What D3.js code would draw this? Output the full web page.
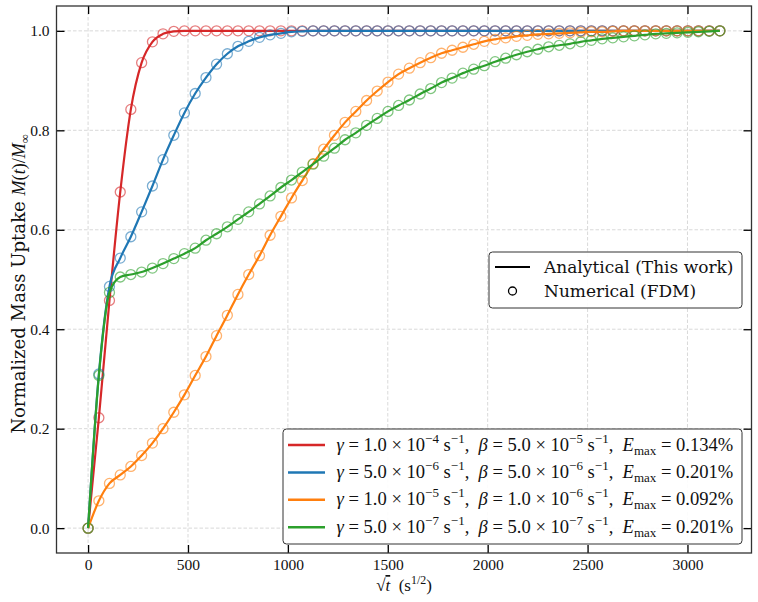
<!DOCTYPE html>
<html>
<head>
<meta charset="utf-8">
<script src="https://cdn.jsdelivr.net/npm/d3@7/dist/d3.min.js"></script>
<style>
  body { margin: 0; background: #fff; }
  svg { display: block; }
  text { white-space: pre; }
</style>
</head>
<body>
<svg id="chart" width="758" height="602"></svg>
<script>
// sqrt(t) sample positions of the FDM points (s^1/2)
const xs = [0, 54, 107, 161, 214, 268, 322, 375, 429, 482, 536, 590, 643, 697, 750, 804, 858, 911, 965, 1018,
  1072, 1126, 1179, 1233, 1286, 1340, 1394, 1447, 1501, 1554, 1608, 1662, 1715, 1769, 1822, 1876, 1930, 1983, 2037, 2090,
  2144, 2198, 2251, 2305, 2358, 2412, 2466, 2519, 2573, 2626, 2680, 2734, 2787, 2841, 2894, 2948, 3002, 3055, 3109, 3162]

const redY = [0, 0.222, 0.458, 0.676, 0.842, 0.936, 0.978, 0.994, 0.999, 1, 1, 1, 1, 1, 1, 1, 1, 1, 1, 1,
  1, 1, 1, 1, 1, 1, 1, 1, 1, 1, 1, 1, 1, 1, 1, 1, 1, 1, 1, 1,
  1, 1, 1, 1, 1, 1, 1, 1, 1, 1, 1, 1, 1, 1, 1, 1, 1, 1, 1, 1]
const blueY = [0, 0.31, 0.486, 0.543, 0.586, 0.636, 0.688, 0.741, 0.790, 0.835, 0.874, 0.906, 0.933, 0.954, 0.969, 0.979, 0.987, 0.992, 0.995, 0.998,
  0.999, 1, 1, 1, 1, 1, 1, 1, 1, 1, 1, 1, 1, 1, 1, 1, 1, 1, 1, 1,
  1, 1, 1, 1, 1, 1, 1, 1, 1, 1, 1, 1, 1, 1, 1, 1, 1, 1, 1, 1]
const orangeY = [0, 0.055, 0.090, 0.107, 0.124, 0.146, 0.171, 0.200, 0.233, 0.268, 0.307, 0.345, 0.387, 0.428, 0.470, 0.510, 0.548, 0.589, 0.627, 0.664,
  0.699, 0.733, 0.762, 0.790, 0.816, 0.838, 0.860, 0.879, 0.897, 0.913, 0.925, 0.936, 0.946, 0.955, 0.961, 0.967, 0.973, 0.979, 0.983, 0.986,
  0.989, 0.991, 0.993, 0.994, 0.995, 0.996, 0.997, 0.998, 0.998, 0.999, 1, 1, 1, 1, 1, 1, 1, 1, 1, 1]
const greenY = [0, 0.307, 0.474, 0.505, 0.510, 0.515, 0.523, 0.532, 0.542, 0.552, 0.563, 0.579, 0.592, 0.606, 0.621, 0.636, 0.652, 0.668, 0.685, 0.700,
  0.716, 0.732, 0.748, 0.764, 0.781, 0.795, 0.810, 0.824, 0.838, 0.850, 0.861, 0.873, 0.884, 0.896, 0.905, 0.915, 0.923, 0.930, 0.938, 0.945,
  0.952, 0.958, 0.963, 0.968, 0.971, 0.974, 0.978, 0.981, 0.984, 0.986, 0.988, 0.990, 0.992, 0.994, 0.995, 0.996, 0.997, 0.998, 0.999, 1]

const seriesY = [redY, blueY, orangeY, greenY]
const colors = ["#d62728", "#1f77b4", "#ff7f0e", "#2ca02c"]

const xTicks = [0, 500, 1000, 1500, 2000, 2500, 3000]
const yTicks = [0, 0.2, 0.4, 0.6, 0.8, 1.0]

// legend labels, split into pieces: i = italic, sup / sub = script
const legendLabels = [
  [{t: "γ", i: 1}, {t: " = 1.0 × 10"}, {t: "−4", k: "sup"}, {t: " s"}, {t: "−1", k: "sup"}, {t: ",  "},
   {t: "β", i: 1}, {t: " = 5.0 × 10"}, {t: "−5", k: "sup"}, {t: " s"}, {t: "−1", k: "sup"}, {t: ",  "},
   {t: "E", i: 1}, {t: "max", k: "sub"}, {t: " = 0.134%"}],
  [{t: "γ", i: 1}, {t: " = 5.0 × 10"}, {t: "−6", k: "sup"}, {t: " s"}, {t: "−1", k: "sup"}, {t: ",  "},
   {t: "β", i: 1}, {t: " = 5.0 × 10"}, {t: "−6", k: "sup"}, {t: " s"}, {t: "−1", k: "sup"}, {t: ",  "},
   {t: "E", i: 1}, {t: "max", k: "sub"}, {t: " = 0.201%"}],
  [{t: "γ", i: 1}, {t: " = 1.0 × 10"}, {t: "−5", k: "sup"}, {t: " s"}, {t: "−1", k: "sup"}, {t: ",  "},
   {t: "β", i: 1}, {t: " = 1.0 × 10"}, {t: "−6", k: "sup"}, {t: " s"}, {t: "−1", k: "sup"}, {t: ",  "},
   {t: "E", i: 1}, {t: "max", k: "sub"}, {t: " = 0.092%"}],
  [{t: "γ", i: 1}, {t: " = 5.0 × 10"}, {t: "−7", k: "sup"}, {t: " s"}, {t: "−1", k: "sup"}, {t: ",  "},
   {t: "β", i: 1}, {t: " = 5.0 × 10"}, {t: "−7", k: "sup"}, {t: " s"}, {t: "−1", k: "sup"}, {t: ",  "},
   {t: "E", i: 1}, {t: "max", k: "sub"}, {t: " = 0.201%"}]
]
const styleLabels = ["Analytical (This work)", "Numerical (FDM)"]

const serif = "'DejaVu Serif', serif"
const mathFont = "'Liberation Serif', 'Times New Roman', serif"

const svg = d3.select("#chart")
const box = {left: 56.5, right: 751.5, top: 6, bottom: 553}

const x = d3.scaleLinear().domain([-158.1, 3320.4]).range([box.left, box.right])
const y = d3.scaleLinear().domain([-0.05, 1.05]).range([box.bottom, box.top])

// dashed grid
const grid = svg.append("g").attr("stroke", "#cfcfcf").attr("stroke-width", 0.8)
  .attr("stroke-dasharray", "3.5,2")
grid.selectAll("line.gx").data(xTicks).join("line")
  .attr("x1", d => x(d)).attr("x2", d => x(d)).attr("y1", box.top).attr("y2", box.bottom)
grid.selectAll("line.gy").data(yTicks).join("line")
  .attr("y1", d => y(d)).attr("y2", d => y(d)).attr("x1", box.left).attr("x2", box.right)

// series: analytical line + FDM circles
const line = d3.line().x((d, i) => x(xs[i])).y(d => y(d)).curve(d3.curveMonotoneX)
seriesY.forEach((ys, s) => {
  const g = svg.append("g")
  g.append("path").attr("d", line(ys)).attr("fill", "none")
    .attr("stroke", colors[s]).attr("stroke-width", 2.2)
  g.selectAll("circle").data(ys).join("circle")
    .attr("cx", (d, i) => x(xs[i])).attr("cy", d => y(d)).attr("r", 5)
    .attr("fill", "none").attr("stroke", colors[s]).attr("stroke-opacity", 0.6)
    .attr("stroke-width", 1.3)
})

// axes, ticks pointing inward on all sides
function styleAxis(g) {
  g.select(".domain").remove()
  g.selectAll(".tick line").attr("stroke", "#000").attr("stroke-width", 1.3)
  g.selectAll(".tick text").attr("font-family", mathFont).attr("font-size", 15.5).attr("fill", "#111")
}
svg.append("g").attr("transform", `translate(0,${box.bottom})`)
  .call(d3.axisBottom(x).tickValues(xTicks).tickSizeInner(-8).tickSizeOuter(0).tickPadding(6).tickFormat(d3.format("d")))
  .call(styleAxis)
svg.append("g").attr("transform", `translate(0,${box.top})`)
  .call(d3.axisTop(x).tickValues(xTicks).tickSizeInner(-8).tickSizeOuter(0).tickFormat(""))
  .call(styleAxis)
svg.append("g").attr("transform", `translate(${box.left},0)`)
  .call(d3.axisLeft(y).tickValues(yTicks).tickSizeInner(-8).tickSizeOuter(0).tickPadding(7).tickFormat(d3.format(".1f")))
  .call(styleAxis)
svg.append("g").attr("transform", `translate(${box.right},0)`)
  .call(d3.axisRight(y).tickValues(yTicks).tickSizeInner(-8).tickSizeOuter(0).tickFormat(""))
  .call(styleAxis)

svg.append("rect").attr("x", box.left).attr("y", box.top)
  .attr("width", box.right - box.left).attr("height", box.bottom - box.top)
  .attr("fill", "none").attr("stroke", "#333").attr("stroke-width", 1.3)

// text made of plain, italic and script pieces
function rich(textSel, segs, size) {
  textSel.selectAll("tspan").remove()
  let shift = 0
  segs.forEach(s => {
    const small = s.k === "sup" || s.k === "sub"
    const target = s.k === "sup" ? -0.42 * size : s.k === "sub" ? 0.22 * size : 0
    const ts = textSel.append("tspan").text(s.t)
      .attr("font-size", small ? size * 0.7 : size)
      .attr("dy", target - shift)
    if (s.i) ts.attr("font-style", "italic")
    if (s.f) ts.attr("font-family", s.f)
    if (s.o) ts.attr("text-decoration", "overline")
    shift = target
  })
}
// rebuild so the text spans a given width
function richFit(textSel, segs, size, width) {
  rich(textSel, segs, size)
  const w = textSel.node().getComputedTextLength()
  rich(textSel, segs, size * width / w)
}

// axis labels
const xl = svg.append("text").attr("x", (box.left + box.right) / 2).attr("y", 591)
  .attr("text-anchor", "middle").attr("font-family", mathFont).attr("fill", "#111")
rich(xl, [{t: "√"}, {t: "t", i: 1, o: 1}, {t: "  (s"}, {t: "1/2", k: "sup"}, {t: ")"}], 17)

const yl = svg.append("text")
  .attr("transform", `translate(25,284) rotate(-90)`)
  .attr("text-anchor", "middle").attr("font-family", serif).attr("fill", "#111")
richFit(yl, [{t: "Normalized Mass Uptake "}, {t: "M", i: 1, f: mathFont}, {t: "(", f: mathFont},
  {t: "t", i: 1, f: mathFont}, {t: ")/", f: mathFont}, {t: "M", i: 1, f: mathFont},
  {t: "∞", k: "sub", f: mathFont}], 18, 300)

// legend: line style vs circles
const lg1 = svg.append("g")
lg1.append("rect").attr("x", 489).attr("y", 252).attr("width", 253).attr("height", 56).attr("rx", 3.5)
  .attr("fill", "#fff").attr("fill-opacity", 0.9).attr("stroke", "#333").attr("stroke-width", 1)
lg1.append("line").attr("x1", 495).attr("x2", 530).attr("y1", 267).attr("y2", 267)
  .attr("stroke", "#000").attr("stroke-width", 2.2)
lg1.append("circle").attr("cx", 512.5).attr("cy", 291).attr("r", 4)
  .attr("fill", "none").attr("stroke", "#000").attr("stroke-width", 1.3)
lg1.selectAll("text").data(styleLabels).join("text")
  .attr("x", 544).attr("y", (d, i) => 272.5 + i * 24)
  .attr("font-family", serif).attr("font-size", 17).attr("fill", "#111").text(d => d)

// legend: parameter sets
const lg2 = svg.append("g")
lg2.append("rect").attr("x", 283).attr("y", 429).attr("width", 459).attr("height", 115).attr("rx", 3.5)
  .attr("fill", "#fff").attr("fill-opacity", 0.9).attr("stroke", "#333").attr("stroke-width", 1)
legendLabels.forEach((segs, i) => {
  const cy = 445 + i * 27.4
  lg2.append("line").attr("x1", 288).attr("x2", 325).attr("y1", cy).attr("y2", cy)
    .attr("stroke", colors[i]).attr("stroke-width", 2.5)
  const t = lg2.append("text").attr("x", 336.5).attr("y", cy + 5.5)
    .attr("font-family", mathFont).attr("fill", "#111")
  richFit(t, segs, 17, 397)
})
</script>
</body>
</html>
